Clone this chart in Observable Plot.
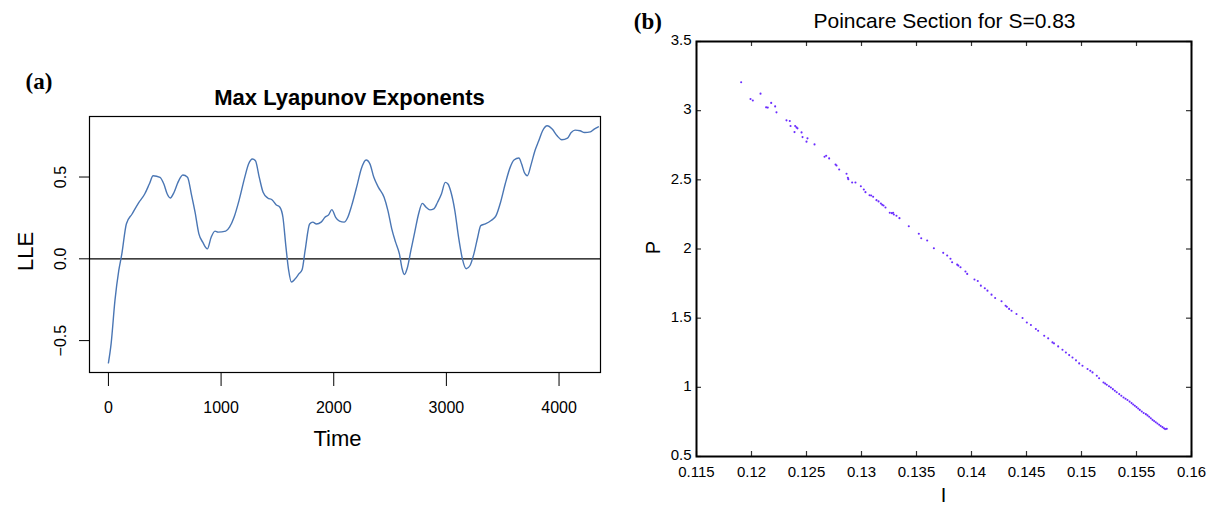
<!DOCTYPE html>
<html><head><meta charset="utf-8">
<script src="https://cdn.jsdelivr.net/npm/d3@7"></script>
<script src="https://cdn.jsdelivr.net/npm/@observablehq/plot@0.6"></script>
<style>
html,body{margin:0;padding:0;background:#fff;}
#wrap{position:relative;width:1218px;height:505px;overflow:hidden;background:#fff;}
#wrap svg{position:absolute;top:0;max-width:none;}
</style></head><body><div id="wrap"></div>
<script>
// ---- Panel (a): Max Lyapunov Exponents ----
const lleTime = [0,24,58,92,119,159,210,261,322,363,
397,458,492,522,549,583,617,661,702,736,
769,803,837,878,912,946,973,1041,1075,1115,
1159,1210,1244,1278,1305,1339,1373,1414,1454,1488,
1522,1549,1576,1600,1624,1658,1692,1719,1746,1786,
1814,1847,1888,1922,1956,1983,2017,2051,2092,2125,
2159,2210,2244,2288,2322,2356,2397,2447,2481,2515,
2549,2583,2607,2627,2651,2685,2719,2753,2786,2820,
2854,2888,2922,2956,2990,3014,3041,3075,3108,3142,
3176,3210,3244,3278,3305,3346,3397,3441,3481,3522,
3566,3600,3644,3668,3692,3719,3753,3786,3820,3854,
3895,3939,3983,4024,4075,4108,4142,4186,4227,4278,
4312,4349];
const lleValue = [-0.636,-0.518,-0.254,-0.071,0.03,0.213,0.274,0.335,0.396,0.457,
0.508,0.498,0.457,0.396,0.372,0.407,0.467,0.512,0.498,0.396,
0.285,0.152,0.102,0.061,0.132,0.169,0.163,0.169,0.193,0.254,
0.356,0.498,0.579,0.61,0.6,0.498,0.407,0.372,0.36,0.331,
0.315,0.254,0.071,-0.071,-0.142,-0.122,-0.091,-0.067,0.051,0.213,
0.224,0.213,0.224,0.254,0.27,0.301,0.254,0.23,0.224,0.254,
0.325,0.457,0.549,0.604,0.579,0.498,0.437,0.376,0.295,0.183,
0.102,0.03,-0.061,-0.096,-0.061,0.051,0.163,0.274,0.339,0.315,
0.299,0.305,0.346,0.396,0.467,0.457,0.407,0.295,0.132,0.0,
-0.061,-0.041,0.03,0.132,0.203,0.213,0.234,0.264,0.346,0.457,
0.559,0.604,0.616,0.579,0.528,0.508,0.579,0.661,0.722,0.783,
0.813,0.793,0.752,0.728,0.738,0.772,0.787,0.783,0.772,0.776,
0.793,0.807];
const lleXTicks = [0,1000,2000,3000,4000];
const lleXTickLabels = ["0","1000","2000","3000","4000"];
const lleYTicks = [-0.5,0,0.5];
const lleYTickLabels = ["\u22120.5","0.0","0.5"];

// ---- Panel (b): Poincare section ----
const poincareI = [
0.11906,0.11991,0.12012,0.12082,0.12133,0.12148,0.12179,0.12215,0.12227,0.12318,
0.12348,0.12355,0.12397,0.12409,0.12418,0.12391,0.12455,0.12464,0.12509,0.12500,
0.12573,0.12664,0.12679,0.12706,0.12764,0.12773,0.12797,0.12864,0.12876,0.12880,
0.12915,0.12945,0.12994,0.13021,0.13036,0.13073,0.13088,0.13106,0.13136,0.13155,
0.13176,0.13188,0.13200,0.13218,0.13257,0.13276,0.13288,0.13294,0.13318,0.13345,
0.13430,0.13521,0.13543,0.13597,0.13658,0.13743,0.13779,0.13809,0.13824,0.13870,
0.13900,0.13945,0.13961,0.14027,0.14057,0.14085,0.14121,0.14145,0.14182,0.14215,
0.14273,0.14321,0.14342,0.14364,0.14409,0.14464,0.14503,0.14540,0.14585,0.14606,
0.14661,0.14697,0.14736,0.14788,0.14827,0.14858,0.14888,0.14918,0.14979,0.15009,
0.15055,0.15100,0.15139,0.15200,0.15230,0.15267,0.15303,0.15343,0.15382,0.15418,
0.15455,0.15485,0.15515,0.15548,0.15585,0.15615,0.15645,0.15675,0.15706,0.15736,
0.15760,0.15215,0.15250,0.15285,0.15320,0.15362,0.15400,0.15437,0.15470,0.15500,
0.15530,0.15565,0.15600,0.15630,0.15660,0.15690,0.15720,0.15750,0.15775,0.14950,
0.15080,0.15160,0.14310,0.13880,0.14750];
const poincareP = [
3.205,3.084,3.073,3.123,3.024,3.022,3.056,3.031,2.988,2.930,
2.925,2.889,2.889,2.879,2.872,2.845,2.843,2.809,2.800,2.776,
2.756,2.667,2.674,2.655,2.611,2.604,2.575,2.544,2.515,2.505,
2.481,2.481,2.454,2.430,2.411,2.389,2.387,2.378,2.353,2.344,
2.329,2.320,2.315,2.300,2.262,2.259,2.262,2.249,2.240,2.223,
2.165,2.110,2.078,2.061,2.005,1.972,1.953,1.929,1.904,1.887,
1.868,1.837,1.820,1.779,1.769,1.735,1.716,1.699,1.670,1.646,
1.622,1.583,1.567,1.554,1.530,1.501,1.469,1.451,1.422,1.409,
1.373,1.354,1.325,1.296,1.272,1.252,1.233,1.216,1.173,1.156,
1.132,1.108,1.084,1.035,1.019,0.999,0.975,0.951,0.927,0.908,
0.886,0.867,0.847,0.825,0.806,0.787,0.765,0.748,0.729,0.712,
0.698,1.027,1.008,0.987,0.964,0.939,0.917,0.897,0.876,0.857,
0.837,0.815,0.797,0.776,0.757,0.739,0.720,0.704,0.700,1.195,
1.120,1.066,1.590,1.880,1.318];
const pXTicks = [0.115,0.12,0.125,0.13,0.135,0.14,0.145,0.15,0.155,0.16];
const pXTickLabels = ["0.115","0.12","0.125","0.13","0.135","0.14","0.145","0.15","0.155","0.16"];
const pYTicks = [0.5,1,1.5,2,2.5,3,3.5];
const pYTickLabels = ["0.5","1","1.5","2","2.5","3","3.5"];

const SANS = "Liberation Sans, Arial, Helvetica, sans-serif";
const SERIF = "Liberation Serif, Times New Roman, serif";

const lle = lleTime.map((t, i) => ({t, v: lleValue[i]}));
const plotA = Plot.plot({
  width: 610, height: 505,
  marginLeft: 89, marginRight: 10, marginTop: 116, marginBottom: 133,
  style: {fontFamily: SANS, fontSize: "16px", background: "transparent", color: "black"},
  x: {domain: [-168, 4368]},
  y: {domain: [-0.695, 0.87]},
  marks: [
    Plot.ruleY([0], {stroke: "black", strokeWidth: 1.3}),
    Plot.line(lle, {x: "t", y: "v", stroke: "#4a76b4", strokeWidth: 1.4, clip: true, curve: "monotone-x"}),
    Plot.frame({stroke: "black", strokeWidth: 1.2}),
    Plot.axisX({ticks: lleXTicks, tickSize: 14, tickPadding: 15, label: null,
      tickFormat: d => lleXTickLabels[lleXTicks.indexOf(d)]}),
    Plot.axisY({ticks: lleYTicks, tickSize: 10, label: null, tickFormat: () => ""}),
    Plot.text(lleYTicks, {y: d => d, text: d => lleYTickLabels[lleYTicks.indexOf(d)],
      frameAnchor: "left", dx: -28.5, rotate: -90, fontSize: 16, textAnchor: "middle", lineAnchor: "middle"}),
    Plot.text(["Max Lyapunov Exponents"], {frameAnchor: "top-left", dx: 260, dy: -12,
      fontWeight: "bold", fontSize: 22, textAnchor: "middle", lineAnchor: "bottom"}),
    Plot.text(["Time"], {frameAnchor: "top-left", dx: 248, dy: 329,
      fontSize: 22, textAnchor: "middle", lineAnchor: "bottom"}),
    Plot.text(["LLE"], {frameAnchor: "top-left", dx: -63.2, dy: 135, rotate: -90,
      fontSize: 22, textAnchor: "middle", lineAnchor: "middle"}),
    Plot.text(["(a)"], {frameAnchor: "top-left", dx: -64, dy: -27.5,
      fontFamily: SERIF, fontWeight: "bold", fontSize: 23, textAnchor: "start", lineAnchor: "bottom"})
  ]
});

const pts = poincareI.map((x, i) => ({I: x, P: poincareP[i]}));
const innerH = 505 - 41 - 49, innerW = 608 - 86 - 27;
const plotB = Plot.plot({
  width: 608, height: 505,
  marginLeft: 86, marginRight: 27, marginTop: 41, marginBottom: 49,
  style: {fontFamily: SANS, fontSize: "15px", background: "transparent", color: "black"},
  x: {domain: [0.115, 0.16]},
  y: {domain: [0.5, 3.5]},
  marks: [
    Plot.dot(pts, {x: "I", y: "P", r: 1.05, fill: "#6a2cff", stroke: null}),
    Plot.tickX(pXTicks, {x: d => d, insetTop: innerH - 5, stroke: "#333", strokeWidth: 1.2}),
    Plot.tickX(pXTicks, {x: d => d, insetBottom: innerH - 5, stroke: "#333", strokeWidth: 1.2}),
    Plot.tickY(pYTicks, {y: d => d, insetRight: innerW - 5, stroke: "#333", strokeWidth: 1.2}),
    Plot.tickY(pYTicks, {y: d => d, insetLeft: innerW - 5, stroke: "#333", strokeWidth: 1.2}),
    Plot.frame({stroke: "black", strokeWidth: 2}),
    Plot.axisX({ticks: pXTicks, tickSize: 0, tickPadding: 10, label: null,
      tickFormat: d => pXTickLabels[pXTicks.indexOf(d)]}),
    Plot.axisY({ticks: pYTicks, tickSize: 0, tickPadding: 5, label: null, dy: -1,
      tickFormat: d => pYTickLabels[pYTicks.indexOf(d)]}),
    Plot.text(["Poincare Section for S=0.83"], {frameAnchor: "top-left", dx: 248, dy: -14,
      fontSize: 21, textAnchor: "middle", lineAnchor: "bottom"}),
    Plot.text(["I"], {frameAnchor: "top-left", dx: 247, dy: 460.7,
      fontSize: 20, textAnchor: "middle", lineAnchor: "bottom"}),
    Plot.text(["P"], {frameAnchor: "top-left", dx: -43, dy: 206, rotate: -90,
      fontSize: 20, textAnchor: "middle", lineAnchor: "middle"}),
    Plot.text(["(b)"], {frameAnchor: "top-left", dx: -62.7, dy: -13,
      fontFamily: SERIF, fontWeight: "bold", fontSize: 23, textAnchor: "start", lineAnchor: "bottom"})
  ]
});

const wrap = document.getElementById("wrap");
plotA.style.left = "0px";
plotB.style.left = "610px";
wrap.appendChild(plotA);
wrap.appendChild(plotB);
</script></body></html>
